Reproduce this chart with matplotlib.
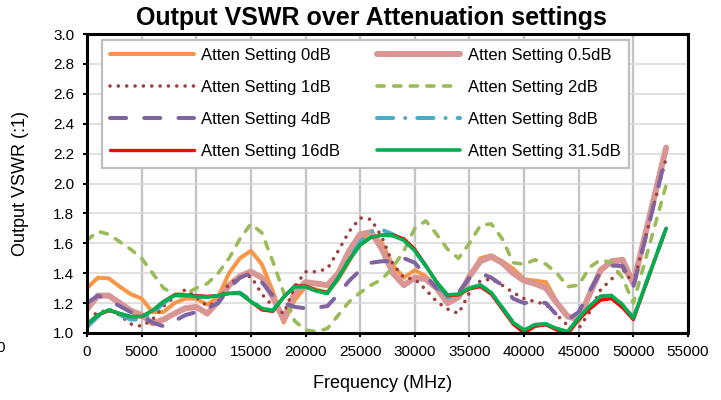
import matplotlib
matplotlib.use("Agg")
import matplotlib.pyplot as plt

plt.rcParams['font.family'] = ['Liberation Sans', 'DejaVu Sans']

# frequency points (MHz)
freq = list(range(0, 51000, 1000)) + [53000]

vswr_0db = [1.30, 1.37, 1.365, 1.31, 1.26, 1.23, 1.14, 1.14, 1.20, 1.23,
            1.23, 1.19, 1.24, 1.40, 1.50, 1.55, 1.46, 1.28, 1.07, 1.22,
            1.31, 1.29, 1.27, 1.36, 1.48, 1.62, 1.66, 1.60, 1.45, 1.37,
            1.42, 1.38, 1.30, 1.21, 1.25, 1.38, 1.50, 1.52, 1.48, 1.43,
            1.36, 1.35, 1.34, 1.21, 1.11, 1.09, 1.27, 1.43, 1.47, 1.44,
            1.33, 2.22]
vswr_05db = [1.16, 1.25, 1.25, 1.20, 1.15, 1.12, 1.065, 1.09, 1.13, 1.165,
             1.175, 1.13, 1.21, 1.32, 1.38, 1.41, 1.37, 1.24, 1.09, 1.27,
             1.34, 1.33, 1.32, 1.40, 1.55, 1.66, 1.675, 1.56, 1.40, 1.32,
             1.37, 1.36, 1.30, 1.20, 1.24, 1.38, 1.48, 1.51, 1.47, 1.40,
             1.35, 1.33, 1.30, 1.20, 1.11, 1.09, 1.26, 1.42, 1.48, 1.49,
             1.33, 2.24]
vswr_1db = [1.12, 1.13, 1.16, 1.12, 1.06, 1.045, 1.09, 1.18, 1.24, 1.29,
            1.24, 1.18, 1.21, 1.33, 1.37, 1.38, 1.26, 1.18, 1.13, 1.31,
            1.41, 1.41, 1.43, 1.55, 1.68, 1.77, 1.76, 1.64, 1.46, 1.37,
            1.36, 1.29, 1.21, 1.16, 1.13, 1.27, 1.35, 1.36, 1.32, 1.27,
            1.23, 1.21, 1.19, 1.12, 1.05, 1.03, 1.14, 1.29, 1.36, 1.43,
            1.33, 2.17]
vswr_2db = [1.62, 1.68, 1.66, 1.61, 1.56, 1.50, 1.40, 1.30, 1.26, 1.26,
            1.30, 1.33, 1.40, 1.50, 1.63, 1.73, 1.67, 1.48, 1.27, 1.08,
            1.02, 1.01, 1.03, 1.12, 1.21, 1.27, 1.32, 1.36, 1.44, 1.55,
            1.70, 1.75, 1.66, 1.56, 1.50, 1.60, 1.72, 1.73, 1.63, 1.47,
            1.46, 1.49, 1.46, 1.40, 1.31, 1.32, 1.44, 1.49, 1.47, 1.37,
            1.20, 1.99]
vswr_4db = [1.20, 1.25, 1.22, 1.18, 1.14, 1.11, 1.07, 1.045, 1.08, 1.12,
            1.14, 1.165, 1.20, 1.30, 1.37, 1.40, 1.34, 1.25, 1.20, 1.175,
            1.165, 1.17, 1.18, 1.26, 1.35, 1.42, 1.47, 1.48, 1.48, 1.50,
            1.47, 1.38, 1.30, 1.275, 1.27, 1.37, 1.40, 1.37, 1.32, 1.23,
            1.20, 1.21, 1.20, 1.12, 1.09, 1.14, 1.28, 1.41, 1.45, 1.45,
            1.31, 2.19]
vswr_8db = [1.04, 1.11, 1.15, 1.12, 1.09, 1.09, 1.13, 1.20, 1.25, 1.25,
            1.245, 1.24, 1.25, 1.265, 1.27, 1.22, 1.165, 1.15, 1.24, 1.31,
            1.31, 1.28, 1.265, 1.37, 1.50, 1.61, 1.68, 1.69, 1.66, 1.62,
            1.55, 1.45, 1.33, 1.24, 1.25, 1.30, 1.32, 1.27, 1.17, 1.07,
            1.02, 1.055, 1.06, 1.03, 1.01, 1.10, 1.18, 1.245, 1.25, 1.19,
            1.10, 1.70]
vswr_16db = [1.06, 1.12, 1.15, 1.13, 1.11, 1.11, 1.15, 1.21, 1.255, 1.255,
             1.25, 1.245, 1.25, 1.265, 1.265, 1.21, 1.155, 1.145, 1.24, 1.315,
             1.315, 1.285, 1.27, 1.37, 1.49, 1.59, 1.64, 1.655, 1.655, 1.63,
             1.56, 1.45, 1.34, 1.25, 1.255, 1.295, 1.31, 1.26, 1.16, 1.06,
             1.00, 1.045, 1.055, 1.02, 0.995, 1.09, 1.16, 1.22, 1.23, 1.17,
             1.09, 1.70]
vswr_315db = [1.06, 1.12, 1.155, 1.13, 1.11, 1.11, 1.15, 1.21, 1.25, 1.25,
              1.245, 1.24, 1.25, 1.265, 1.265, 1.21, 1.165, 1.15, 1.24, 1.31,
              1.31, 1.28, 1.265, 1.37, 1.49, 1.59, 1.64, 1.655, 1.65, 1.62,
              1.55, 1.45, 1.34, 1.255, 1.26, 1.30, 1.32, 1.27, 1.17, 1.07,
              1.02, 1.055, 1.06, 1.03, 1.01, 1.10, 1.18, 1.245, 1.25, 1.19,
              1.10, 1.70]

labels = ['Atten Setting 0dB', 'Atten Setting 0.5dB', 'Atten Setting 1dB',
          'Atten Setting 2dB', 'Atten Setting 4dB', 'Atten Setting 8dB',
          'Atten Setting 16dB', 'Atten Setting 31.5dB']

fig = plt.figure(figsize=(7.21, 4.0), dpi=100)
ax = fig.add_axes([87 / 721, 1 - 333 / 400, 601 / 721, 299 / 400])

lines = []
l, = ax.plot(freq, vswr_0db, color='#F79646', lw=2.9, solid_capstyle='round')
lines.append(l)
l, = ax.plot(freq, vswr_05db, color='#D99694', lw=4.3, solid_capstyle='round')
lines.append(l)
l, = ax.plot(freq, vswr_1db, color='#A0403C', lw=2.6, dashes=(0.01, 2.3),
             dash_capstyle='round')
lines.append(l)
l, = ax.plot(freq, vswr_2db, color='#9BBB59', lw=2.6, dashes=(2.0, 2.6),
             dash_capstyle='round')
lines.append(l)
l, = ax.plot(freq, vswr_4db, color='#8064A2', lw=2.9, dashes=(4.0, 4.5),
             dash_capstyle='round')
lines.append(l)
l, = ax.plot(freq, vswr_8db, color='#4BACC6', lw=2.9, dashes=(4.0, 3.0, 0.01, 3.0),
             dash_capstyle='round')
lines.append(l)
l, = ax.plot(freq, vswr_16db, color='#FF0000', lw=2.4, solid_capstyle='round')
lines.append(l)
l, = ax.plot(freq, vswr_315db, color='#00B050', lw=2.6, solid_capstyle='round')
lines.append(l)

ax.set_xlim(0, 55000)
ax.set_ylim(1.0, 3.0)
ax.set_xticks(range(0, 55001, 5000))
ax.set_yticks([1.0 + 0.2 * i for i in range(11)])
ax.set_yticklabels([f'{1.0 + 0.2 * i:.1f}' for i in range(11)])

ax.grid(axis='x', color='#C4C4C4', lw=1.7)
ax.grid(axis='y', color='#D9D9D9', lw=1.1)
ax.set_axisbelow(True)
for s in ax.spines.values():
    s.set_linewidth(2.2)
    s.set_color('black')
ax.tick_params(direction='out', length=3, width=1.5, labelsize=11, pad=6,
               colors='black')

# legend entries row-wise, two columns
order = [0, 2, 4, 6, 1, 3, 5, 7]
leg = ax.legend([lines[i] for i in order], [labels[i] for i in order],
                ncol=2, loc='upper left', mode='expand',
                bbox_to_anchor=(102 / 721, 1 - 168 / 400, 527 / 721, 128 / 400),
                bbox_transform=fig.transFigure, borderaxespad=0,
                fontsize=12, handlelength=5.0, handletextpad=0.45,
                labelspacing=1.02, borderpad=0.5, fancybox=False,
                framealpha=1, edgecolor='#BFBFBF')
leg.get_frame().set_linewidth(1.6)

fig.text(371 / 721, 1 - 25 / 400, 'Output VSWR over Attenuation settings',
         ha='center', va='baseline', fontsize=18, fontweight='bold')
fig.text(21 / 721, 1 - 183 / 400, 'Output VSWR (:1)', rotation=90,
         ha='center', va='center', fontsize=13)
fig.text(383 / 721, 1 - 384 / 400, 'Frequency (MHz)',
         ha='center', va='center', fontsize=13)
fig.text(-4 / 721, 1 - 348 / 400, '0', ha='left', va='center', fontsize=11)

fig.savefig('out.png', dpi=100)
